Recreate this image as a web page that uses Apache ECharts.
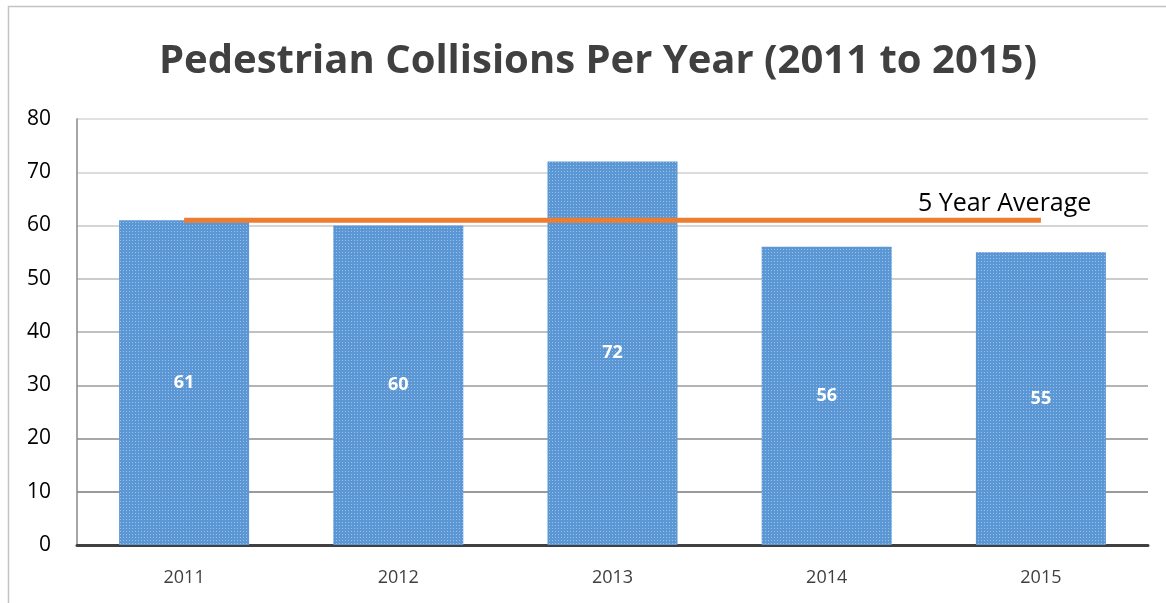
<!DOCTYPE html>
<html><head><meta charset="utf-8">
<script src="https://cdn.jsdelivr.net/npm/echarts@6/dist/echarts.min.js"></script>
<style>html,body{margin:0;padding:0;background:#fff}#c{width:1166px;height:603px}</style>
</head><body><div id="c"></div>
<script>
const titleText = 'Pedestrian Collisions Per Year (2011 to 2015)';
const categories = ['2011', '2012', '2013', '2014', '2015'];
const collisions = [61, 60, 72, 56, 55];
const averageLine = [61, 61, 61, 61, 61];
const averageLabel = '5 Year Average';
const yTicks = [0, 10, 20, 30, 40, 50, 60, 70, 80];

const chart = echarts.init(document.getElementById('c'));
chart.setOption({
  animation: false,
  backgroundColor: '#fff',
  graphic: [{type: 'rect', shape: {x: 8.5, y: 6.5, width: 1200, height: 700}, style: {fill: null, stroke: '#c4c4c4', lineWidth: 1.5}, z: -10}],
  title: {text: titleText, left: 154, top: 37,
    textStyle: {fontFamily: 'Open Sans', fontWeight: 'bold', fontSize: 40, color: '#404040'}},
  grid: {left: 77, right: 18, top: 119, bottom: 58},
  xAxis: {type: 'category', data: categories,
    axisLine: {lineStyle: {color: '#404040', width: 3}},
    axisTick: {show: false},
    axisLabel: {color: '#404040', fontSize: 18, fontFamily: 'Open Sans', margin: 24}},
  yAxis: {type: 'value', min: yTicks[0], max: yTicks[yTicks.length - 1], interval: 10,
    axisLine: {show: true, lineStyle: {color: '#888', width: 1.5}},
    axisTick: {show: false},
    axisLabel: {color: '#000', fontSize: 21, fontFamily: 'Open Sans', margin: 26},
    splitLine: {lineStyle: {width: 2, color: ['#404040', '#9a9a9a', '#a8a8a8', '#b4b4b4', '#c0c0c0', '#cbcbcb', '#d5d5d5', '#dcdcdc', '#e1e1e1']}}},
  series: [{
    type: 'bar', data: collisions, barWidth: 130,
    itemStyle: {color: '#5b97d4',
      decal: {symbol: 'rect', color: 'rgba(255,255,255,0.4)', dashArrayX: [1, 2], dashArrayY: [1, 2], symbolSize: 1, rotation: 0}},
    label: {show: true, position: 'inside', color: '#fff', fontWeight: 'bold', fontSize: 18, fontFamily: 'Open Sans'},
    z: 2
  }, {
    type: 'line', data: averageLine, symbol: 'none',
    lineStyle: {color: '#ed7d31', width: 5},
    endLabel: {show: true, formatter: averageLabel, color: '#000', fontSize: 25, fontFamily: 'Open Sans', offset: [-131, -16]},
    z: 5
  }]
});
</script></body></html>
